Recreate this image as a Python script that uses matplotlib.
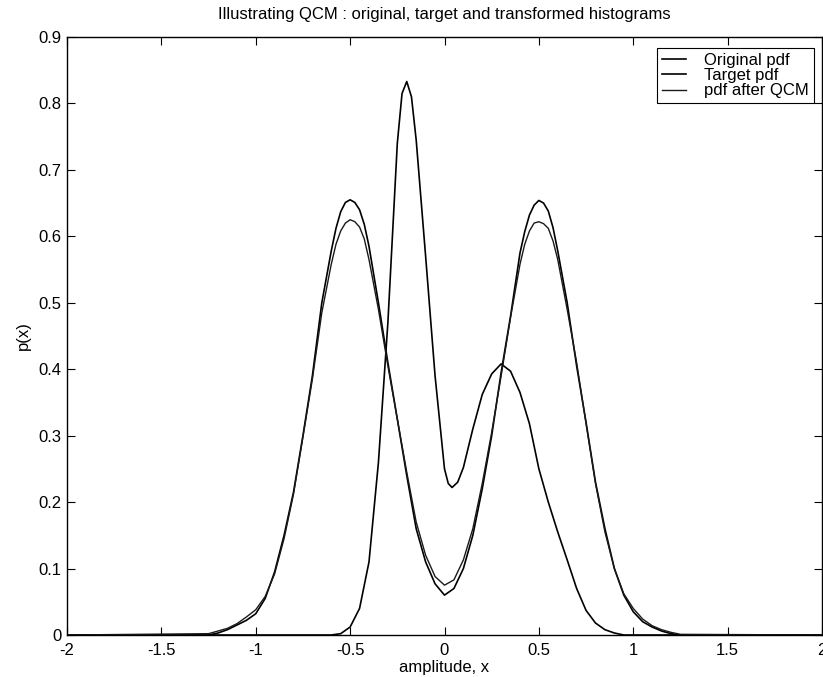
import matplotlib
matplotlib.use("Agg")
import matplotlib.pyplot as plt

plt.rcParams['font.family'] = ['Liberation Sans', 'DejaVu Sans']

# ---- data ----
x_orig = [-2.0, -0.60, -0.55, -0.50, -0.45, -0.40, -0.35, -0.30, -0.25, -0.225, -0.20,
          -0.175, -0.15, -0.10, -0.05, 0.00, 0.02, 0.04, 0.07, 0.10, 0.15, 0.20, 0.25, 0.30, 0.35,
          0.40, 0.45, 0.50, 0.55, 0.60, 0.65, 0.70, 0.75, 0.80, 0.85, 0.90, 0.95, 2.0]
y_orig = [0.0, 0.0, 0.002, 0.012, 0.040, 0.110, 0.260, 0.470, 0.740, 0.815, 0.833,
          0.810, 0.745, 0.570, 0.390, 0.250, 0.228, 0.222, 0.230, 0.252, 0.310, 0.362, 0.393, 0.408, 0.397,
          0.365, 0.318, 0.250, 0.200, 0.155, 0.113, 0.070, 0.037, 0.018, 0.008, 0.003, 0.0, 0.0]

x_target = [-2.0, -1.25, -1.20, -1.15, -1.10, -1.05, -1.00, -0.95, -0.90, -0.85, -0.80,
            -0.75, -0.70, -0.65, -0.60, -0.575, -0.55, -0.525, -0.50, -0.475, -0.45, -0.425,
            -0.40, -0.35, -0.30, -0.25,
            -0.20, -0.15, -0.10, -0.05, 0.00, 0.05, 0.10, 0.15, 0.20, 0.25, 0.30, 0.35,
            0.40, 0.425, 0.45, 0.475, 0.50, 0.525, 0.55, 0.575, 0.60, 0.65, 0.70, 0.75, 0.80,
            0.85, 0.90, 0.95, 1.00, 1.05, 1.10, 1.15, 1.20, 1.25, 2.0]
y_target = [0.0, 0.0, 0.003, 0.008, 0.015, 0.022, 0.032, 0.055, 0.095, 0.150, 0.215,
            0.300, 0.390, 0.500, 0.578, 0.612, 0.637, 0.651, 0.655, 0.651, 0.640, 0.618,
            0.585, 0.500, 0.410, 0.325,
            0.240, 0.160, 0.110, 0.077, 0.060, 0.070, 0.100, 0.150, 0.220, 0.300, 0.395, 0.480,
            0.575, 0.607, 0.632, 0.647, 0.654, 0.650, 0.638, 0.613, 0.578, 0.500, 0.405, 0.320, 0.230,
            0.160, 0.100, 0.060, 0.035, 0.020, 0.012, 0.006, 0.002, 0.0, 0.0]

x_qcm = x_target
y_qcm = [0.0, 0.002, 0.006, 0.010, 0.017, 0.027, 0.038, 0.058, 0.092, 0.145, 0.212,
         0.298, 0.385, 0.485, 0.558, 0.588, 0.608, 0.620, 0.625, 0.622, 0.614, 0.596,
         0.565, 0.490, 0.405, 0.325,
         0.245, 0.170, 0.120, 0.088, 0.075, 0.083, 0.113, 0.160, 0.228, 0.305, 0.390, 0.478,
         0.558, 0.588, 0.608, 0.620, 0.622, 0.619, 0.612, 0.593, 0.565, 0.490, 0.410, 0.318, 0.228,
         0.155, 0.100, 0.062, 0.040, 0.024, 0.014, 0.008, 0.004, 0.001, 0.0]

labels = ['Original pdf', 'Target pdf', 'pdf after QCM']
xticks = [-2, -1.5, -1, -0.5, 0, 0.5, 1, 1.5, 2]
xtick_labels = ['-2', '-1.5', '-1', '-0.5', '0', '0.5', '1', '1.5', '2']
yticks = [0, 0.1, 0.2, 0.3, 0.4, 0.5, 0.6, 0.7, 0.8, 0.9]
ytick_labels = ['0', '0.1', '0.2', '0.3', '0.4', '0.5', '0.6', '0.7', '0.8', '0.9']

fig = plt.figure(figsize=(8.23, 6.77), dpi=100)
ax = fig.add_axes([67/823, 1-635/677, (822-67)/823, (635-37)/677])

ax.plot(x_orig, y_orig, color='black', lw=1.2, label=labels[0])
ax.plot(x_target, y_target, color='black', lw=1.2, label=labels[1])
ax.plot(x_qcm, y_qcm, color='#1a1a1a', lw=1.0, label=labels[2])

ax.set_xlim(-2, 2)
ax.set_ylim(0, 0.9)
ax.set_xticks(xticks)
ax.set_xticklabels(xtick_labels)
ax.set_yticks(yticks)
ax.set_yticklabels(ytick_labels)
ax.tick_params(direction='in', top=True, right=True, length=6, width=0.8,
               labelsize=12)
ax.tick_params(axis='x', pad=6)
ax.tick_params(axis='y', pad=4)
for s in ax.spines.values():
    s.set_linewidth(1.0)

ax.set_title('Illustrating QCM : original, target and transformed histograms',
             fontsize=12, pad=13)
ax.set_xlabel('amplitude, x', fontsize=12, labelpad=1)
ax.set_ylabel('p(x)', fontsize=12, labelpad=5)

leg = ax.legend(loc='upper right', bbox_to_anchor=(0.989, 0.982), fontsize=12,
                fancybox=False, edgecolor='black', framealpha=1, handlelength=1.4,
                handletextpad=1.1, borderpad=0.3, labelspacing=0.02, borderaxespad=0)
leg.get_frame().set_linewidth(0.8)

fig.savefig('out.png', dpi=100)
